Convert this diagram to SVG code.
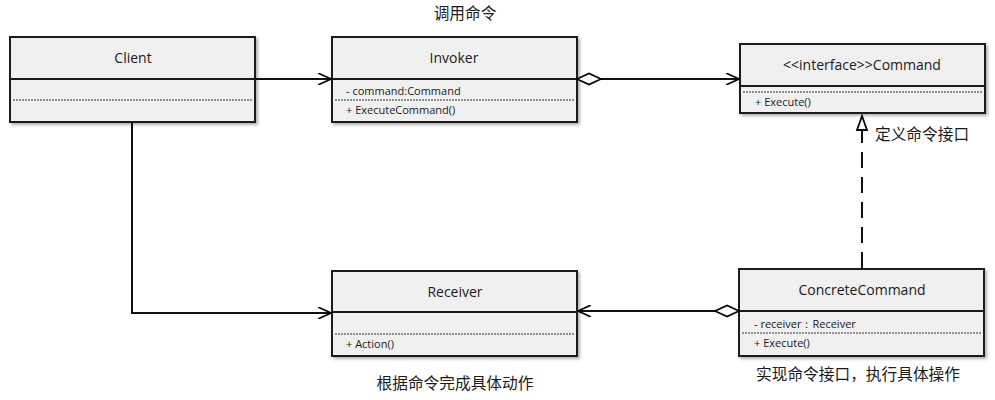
<svg xmlns="http://www.w3.org/2000/svg" width="995" height="400" viewBox="0 0 995 400">
  <defs>
    <filter id="shadow" x="-5%" y="-10%" width="115%" height="130%">
      <feDropShadow dx="2" dy="2" stdDeviation="1.5" flood-color="#000" flood-opacity="0.3"/>
    </filter>
    <marker id="open" viewBox="0 0 14 12" refX="13" refY="6" markerWidth="14" markerHeight="12" markerUnits="userSpaceOnUse" orient="auto">
      <path d="M0,0 L13,6 L0,12" fill="none" stroke="#000" stroke-width="1.6"/>
    </marker>
    <marker id="diamond" viewBox="0 0 27 14" refX="1" refY="7" markerWidth="27" markerHeight="14" markerUnits="userSpaceOnUse" orient="auto">
      <path d="M1,7 L13,1.5 L25,7 L13,12.5 Z" fill="#fff" stroke="#000" stroke-width="1.6"/>
    </marker>
    <marker id="triangle" viewBox="0 0 17 14" refX="1" refY="7" markerWidth="17" markerHeight="14" markerUnits="userSpaceOnUse" orient="auto">
      <path d="M1,2 L15,7 L1,12 Z" fill="#fff" stroke="#000" stroke-width="1.8"/>
    </marker>
  </defs>
  <style>
    .box { fill: #f0f0f0; stroke: #1a1a1a; stroke-width: 2; }
    .div { stroke: #1a1a1a; stroke-width: 2; }
    .dot { stroke: #333; stroke-width: 1; stroke-dasharray: 2 1; }
    .title { font-family: "Open Sans", "Noto Sans", sans-serif; font-size: 14px; fill: #1a1a1a; text-anchor: middle; }
    .member { font-family: "Open Sans", "Noto Sans", sans-serif; font-size: 11px; fill: #1a1a1a; }
    .note { font-family: "Noto Sans CJK SC", sans-serif; font-size: 15.7px; fill: #1a1a1a; }
    .edge { fill: none; stroke: #111; stroke-width: 2; }
  </style>

  <g id="Client">
    <rect class="box" x="10" y="37" width="245" height="85" filter="url(#shadow)"/>
    <line class="div" x1="10" y1="79" x2="255" y2="79"/>
    <line class="dot" x1="13" y1="100" x2="252" y2="100"/>
    <text class="title" x="133" y="63">Client</text>
  </g>

  <g id="Invoker">
    <rect class="box" x="332" y="37" width="245" height="85" filter="url(#shadow)"/>
    <line class="div" x1="332" y1="79" x2="577" y2="79"/>
    <line class="dot" x1="335" y1="100" x2="574" y2="100"/>
    <text class="title" x="454" y="63">Invoker</text>
    <text class="member" x="346" y="95">- command:Command</text>
    <text class="member" x="346" y="114">+ ExecuteCommand()</text>
  </g>

  <g id="Command">
    <rect class="box" x="740" y="44" width="245" height="69" filter="url(#shadow)"/>
    <line class="div" x1="740" y1="86" x2="985" y2="86"/>
    <line class="dot" x1="743" y1="92" x2="982" y2="92"/>
    <text class="title" x="862" y="70">&lt;&lt;interface&gt;&gt;Command</text>
    <text class="member" x="755" y="106">+ Execute()</text>
  </g>

  <g id="Receiver">
    <rect class="box" x="332" y="271" width="245" height="85" filter="url(#shadow)"/>
    <line class="div" x1="332" y1="312" x2="577" y2="312"/>
    <line class="dot" x1="335" y1="334" x2="574" y2="334"/>
    <text class="title" x="455" y="297">Receiver</text>
    <text class="member" x="346" y="348">+ Action()</text>
  </g>

  <g id="ConcreteCommand">
    <rect class="box" x="739" y="269" width="245" height="87" filter="url(#shadow)"/>
    <line class="div" x1="739" y1="311" x2="984" y2="311"/>
    <line class="dot" x1="742" y1="333" x2="981" y2="333"/>
    <text class="title" x="862" y="295">ConcreteCommand</text>
    <text class="member" x="754" y="328">- receiver：Receiver</text>
    <text class="member" x="754" y="347">+ Execute()</text>
  </g>

  <g id="connectors">
    <path class="edge" d="M255,79 H331" marker-end="url(#open)"/>
    <path class="edge" d="M577,79 H739" marker-start="url(#diamond)" marker-end="url(#open)"/>
    <path class="edge" d="M132,122 V313 H331" marker-end="url(#open)"/>
    <path class="edge" d="M739,311 H578" marker-start="url(#diamond)" marker-end="url(#open)"/>
    <path class="edge" d="M862,268 V130" stroke-dasharray="16 9" marker-end="url(#triangle)"/>
  </g>

  <g id="labels">
    <text class="note" x="465" y="19" text-anchor="middle">调用命令</text>
    <text class="note" x="875" y="140">定义命令接口</text>
    <text class="note" x="455" y="389" text-anchor="middle">根据命令完成具体动作</text>
    <text class="note" x="858" y="380" text-anchor="middle">实现命令接口，执行具体操作</text>
  </g>
</svg>
